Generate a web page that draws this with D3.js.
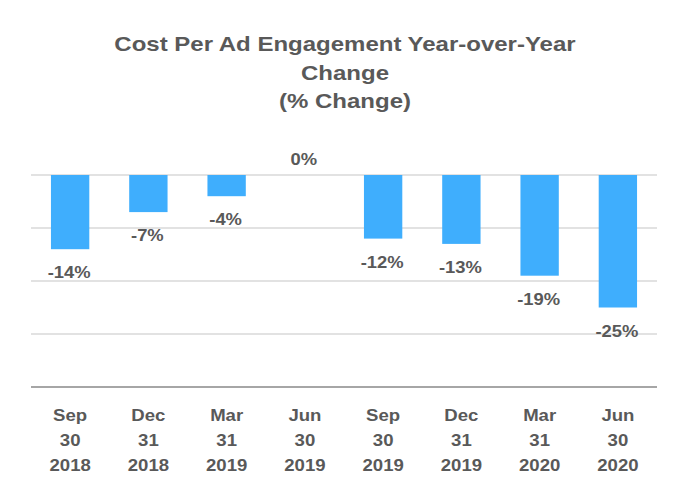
<!DOCTYPE html>
<html><head><meta charset="utf-8">
<script src="https://cdn.jsdelivr.net/npm/d3@7"></script>
<style>body{margin:0;background:#fff}svg{display:block}text{font-family:"Liberation Sans",Arial,sans-serif;font-weight:bold;fill:#595959}</style>
</head><body><svg id="c" width="686" height="500"></svg>
<script>
const categories = [["Sep","30","2018"],["Dec","31","2018"],["Mar","31","2019"],["Jun","30","2019"],["Sep","30","2019"],["Dec","31","2019"],["Mar","31","2020"],["Jun","30","2020"]];
const values = [-14,-7,-4,0,-12,-13,-19,-25];
const gridTicks = [0,-10,-20,-30];
const titleLines = ["Cost Per Ad Engagement Year-over-Year","Change","(% Change)"];

const svg = d3.select("#c");
const x = d3.scaleBand().domain(d3.range(values.length)).range([31,657]).paddingInner(0.51).paddingOuter(0.255);
const y = d3.scaleLinear().domain([0,-40]).range([175,387]);
const cx = i => x(i)+x.bandwidth()/2;

svg.append("g").selectAll("line").data(gridTicks).join("line")
  .attr("x1",31).attr("x2",657).attr("y1",d=>y(d)).attr("y2",d=>y(d))
  .attr("stroke","#d9d9d9").attr("stroke-width",1.5);
svg.append("line").attr("x1",31).attr("x2",657).attr("y1",y(-40)).attr("y2",y(-40))
  .attr("stroke","#a6a6a6").attr("stroke-width",2);

svg.append("g").selectAll("rect").data(values).join("rect")
  .attr("x",(d,i)=>x(i)).attr("width",x.bandwidth())
  .attr("y",d=>y(Math.max(0,d))).attr("height",d=>Math.abs(y(d)-y(0)))
  .attr("fill","#3faefd");

svg.append("g").selectAll("text").data(values).join("text")
  .attr("transform",(d,i)=>`translate(${cx(i)-1},${d<0 ? y(d)+29 : y(0)-10}) scale(1.15,1)`)
  .attr("text-anchor","middle").attr("font-size",16)
  .text(d=>d+"%");

svg.append("g").selectAll("g").data(categories).join("g")
  .attr("transform",(d,i)=>`translate(${cx(i)},0)`)
  .selectAll("text").data(d=>d).join("text")
  .attr("transform",(d,j)=>`translate(0,${421+j*25}) scale(1.16,1)`)
  .attr("text-anchor","middle").attr("font-size",16).text(d=>d);

svg.append("g").selectAll("text").data(titleLines).join("text")
  .attr("transform",(d,i)=>`translate(345,${51+i*28.5}) scale(1.2,1)`)
  .attr("text-anchor","middle").attr("font-size",20).text(d=>d);
</script></body></html>
